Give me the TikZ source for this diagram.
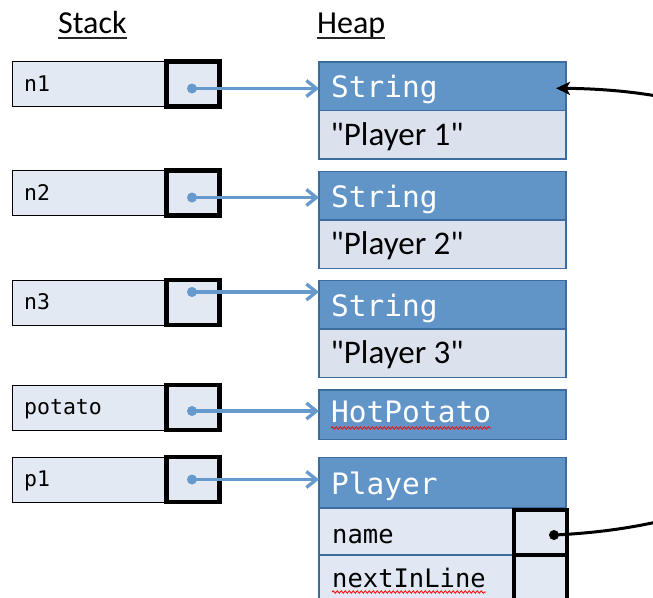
\documentclass[tikz,border=0pt]{standalone}
\usepackage{fontspec}
\setmainfont{Carlito}[Ligatures=TeXOff]
\newfontfamily\monof{DejaVu Sans Mono}
\usetikzlibrary{arrows.meta,decorations.pathmorphing}
\definecolor{hdr}{RGB}{98,149,199}
\definecolor{hdrline}{RGB}{60,108,158}
\definecolor{bodyfill}{RGB}{219,226,237}
\definecolor{rowfill}{RGB}{225,232,243}
\definecolor{stackfill}{RGB}{226,233,243}
\definecolor{ptrblue}{RGB}{102,153,204}
\begin{document}
\begin{tikzpicture}[x=1pt,y=-1pt,
 lblbox/.style={draw=black,line width=1pt,fill=stackfill,anchor=north west,minimum width=154pt,minimum height=45pt,inner sep=0pt,outer sep=0pt},
 ptrbox/.style={draw=black,line width=4.5pt,fill=stackfill,anchor=north west,minimum width=53pt,minimum height=45pt,inner sep=0pt,outer sep=0pt},
 hdrbox/.style={draw=hdrline,line width=1.3pt,fill=hdr,anchor=north west,minimum width=247pt,minimum height=48.5pt,inner sep=0pt,outer sep=0pt},
 bodybox/.style={draw=hdrline,line width=1.3pt,fill=bodyfill,anchor=north west,minimum width=247pt,minimum height=48.5pt,inner sep=0pt,outer sep=0pt},
 rowbox/.style={draw=hdrline,line width=1.3pt,fill=rowfill,anchor=north west,minimum width=247pt,minimum height=47pt,inner sep=0pt,outer sep=0pt},
 stxt/.style={anchor=base west,inner sep=0pt,font=\monof\fontsize{21.5}{26}\selectfont},
 htxt/.style={anchor=base west,inner sep=0pt,text=white,font=\monof\fontsize{29.5}{35}\selectfont},
 btxt/.style={anchor=base west,inner sep=0pt,font=\fontsize{33}{40}\selectfont},
 ftxt/.style={anchor=base west,inner sep=0pt,font=\monof\fontsize{25.5}{30}\selectfont},
 titletxt/.style={anchor=base west,inner sep=0pt,font=\fontsize{32}{38}\selectfont},
 ptrarrow/.style={draw=ptrblue,line width=3.3pt,-{Straight Barb[length=10pt,width=16pt]}},
 pdot/.style={circle,fill=ptrblue,inner sep=0pt,minimum size=10pt},
 bdot/.style={circle,fill=black,inner sep=0pt,minimum size=10pt},
 wavy/.style={draw=red,line width=0.8pt,decorate,decoration={snake,amplitude=1.2pt,segment length=4pt}},
 uline/.style={draw=black!85,line width=1.8pt},
]
\useasboundingbox (0,0) rectangle (653,597);
\clip (0,0) rectangle (653,597);

% titles
\node[titletxt] (stack) at (58,33) {Stack};
\node[titletxt] (heap) at (317,33) {Heap};
\draw[uline] ([yshift=-5pt]stack.base west) -- ([yshift=-5pt]stack.base east);
\draw[uline] ([yshift=-5pt]heap.base west) -- ([yshift=-5pt]heap.base east);

% stack
\node[lblbox] (l1) at (12,61.5) {};
\node[ptrbox] (p1) at (166.5,61.5) {};
\node[stxt] (t1) at (24,91) {n1};
\node[lblbox] (l2) at (12,170.5) {};
\node[ptrbox] (p2) at (166.5,170.5) {};
\node[stxt] (t2) at (24,200) {n2};
\node[lblbox] (l3) at (12,280) {};
\node[ptrbox] (p3) at (166.5,280) {};
\node[stxt] (t3) at (24,309.5) {n3};
\node[lblbox] (l4) at (12,385) {};
\node[ptrbox] (p4) at (166.5,385) {};
\node[stxt] (t4) at (24,414.5) {potato};
\node[lblbox] (l5) at (12,457) {};
\node[ptrbox] (p5) at (166.5,457) {};
\node[stxt] (t5) at (24,486.5) {p1};

% heap
\node[hdrbox] (s1h) at (319,62) {};
\node[bodybox] (s1b) at (319,110.5) {};
\node[htxt] (s1t) at (331,97.5) {String};
\node[btxt] (s1v) at (330.5,145) {"Player 1"};

\node[hdrbox] (s2h) at (319,171.5) {};
\node[bodybox] (s2b) at (319,220) {};
\node[htxt] (s2t) at (331,207) {String};
\node[btxt] (s2v) at (330.5,254.5) {"Player 2"};

\node[hdrbox] (s3h) at (319,280.5) {};
\node[bodybox] (s3b) at (319,329) {};
\node[htxt] (s3t) at (331,316) {String};
\node[btxt] (s3v) at (330.5,363.5) {"Player 3"};

\node[hdrbox,minimum height=49.5pt] (hh) at (319,390) {};
\node[htxt] (ht) at (331,422) {HotPotato};
\draw[wavy] ([yshift=-6pt]ht.base west) -- ([yshift=-6pt]ht.base east);

\node[hdrbox,minimum height=50.5pt] (ph) at (319,457.5) {};
\node[htxt] (pt) at (331,494) {Player};
\node[rowbox] (pn) at (319,508) {};
\node[ftxt] (pnt) at (332,543) {name};
\node[rowbox] (pl) at (319,555) {};
\node[ftxt] (plt) at (332,587) {nextInLine};
\draw[wavy] ([yshift=-5pt]plt.base west) -- ([yshift=-5pt]plt.base east);
\node[ptrbox,minimum width=53pt,minimum height=45pt] (pnb) at (514,510) {};
\node[ptrbox,minimum width=53pt,minimum height=47pt] (plb) at (514,555) {};

% pointers
\node[pdot] (d1) at (192,88.5) {};
\node[pdot] (d2) at (192,197.5) {};
\node[pdot] (d3) at (192,292) {};
\node[pdot] (d4) at (192,411) {};
\node[pdot] (d5) at (192,479.5) {};
\draw[ptrarrow] (d1.center) -- (d1.center -| s1h.west);
\draw[ptrarrow] (d2.center) -- (d2.center -| s2h.west);
\draw[ptrarrow] (d3.center) -- (d3.center -| s3h.west);
\draw[ptrarrow] (d4.center) -- (d4.center -| hh.west);
\draw[ptrarrow] (d5.center) -- (d5.center -| ph.west);

\node[bdot] (nd) at (554,535) {};
\draw[line width=3pt,-{Stealth[length=14pt,width=13pt,inset=3.5pt]}]
  (nd.center) .. controls (1000,515) and (1000,92) .. ([xshift=-10pt,yshift=-2pt]s1h.east);
\end{tikzpicture}
\end{document}
